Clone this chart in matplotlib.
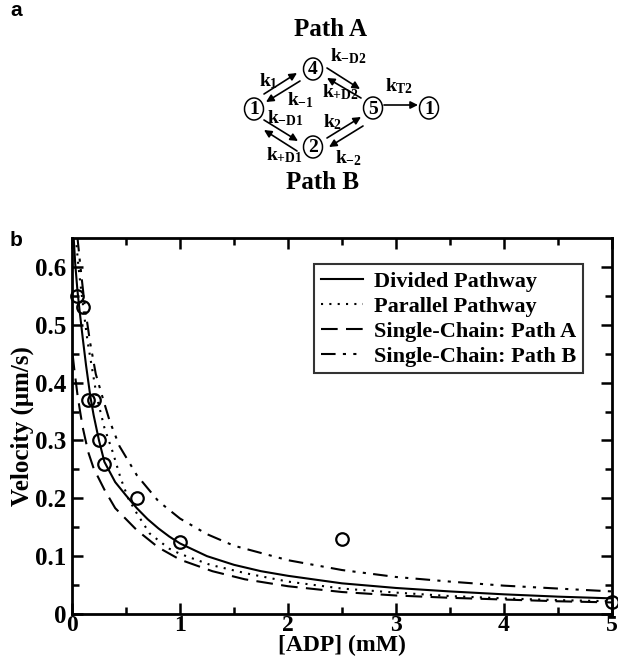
import matplotlib
matplotlib.use("Agg")
import matplotlib.pyplot as plt
from matplotlib.patches import Ellipse, FancyArrowPatch

plt.rcParams['font.family'] = ['Liberation Serif', 'DejaVu Serif']
plt.rcParams['font.weight'] = 'bold'
plt.rcParams['axes.labelweight'] = 'bold'
plt.rcParams['mathtext.fontset'] = 'custom'
plt.rcParams['mathtext.rm'] = 'Liberation Serif:bold'
plt.rcParams['mathtext.it'] = 'Liberation Serif:bold'
plt.rcParams['mathtext.bf'] = 'Liberation Serif:bold'

# measured velocities
adp_pts = [0.05, 0.1, 0.15, 0.2, 0.25, 0.3, 0.6, 1.0, 2.5, 5.0]
vel_pts = [0.55, 0.53, 0.37, 0.37, 0.30, 0.26, 0.20, 0.125, 0.13, 0.02]

# model curves
x_div = [0.015, 0.03, 0.05, 0.07, 0.1, 0.13, 0.17, 0.2, 0.25, 0.3, 0.4, 0.5, 0.6, 0.7, 0.8,
         0.9, 1.0, 1.25, 1.5, 1.75, 2.0, 2.5, 3.0, 3.5, 4.0, 4.5, 5.0]
v_div = [0.652, 0.605, 0.56, 0.525, 0.476, 0.43, 0.376, 0.344, 0.3, 0.263, 0.228, 0.205, 0.183,
         0.164, 0.148, 0.134, 0.122, 0.1, 0.085, 0.074, 0.066, 0.053, 0.045, 0.039, 0.034, 0.030, 0.027]

x_par = [0.035, 0.06, 0.083, 0.114, 0.145, 0.19, 0.23, 0.3, 0.377, 0.45, 0.52, 0.6, 0.72, 0.9,
         1.0, 1.28, 1.62, 2.0, 2.5, 3.0, 3.5, 4.0, 4.5, 5.0]
v_par = [0.652, 0.6, 0.563, 0.515, 0.47, 0.42, 0.375, 0.322, 0.28, 0.235, 0.2, 0.174, 0.139, 0.113,
         0.104, 0.085, 0.07, 0.056, 0.044, 0.037, 0.031, 0.027, 0.024, 0.022]

x_pa = [0.005, 0.02, 0.05, 0.075, 0.1, 0.15, 0.2, 0.3, 0.4, 0.6, 0.8, 1.0, 1.3, 1.6, 2.0, 2.5,
        3.0, 3.5, 4.0, 4.5, 5.0]
v_pa = [0.45, 0.425, 0.38, 0.35, 0.322, 0.28, 0.252, 0.215, 0.183, 0.145, 0.115, 0.094, 0.074,
        0.06, 0.048, 0.038, 0.032, 0.028, 0.025, 0.022, 0.020]

x_pb = [0.05, 0.07, 0.09, 0.12, 0.167, 0.22, 0.29, 0.35, 0.44, 0.6, 0.8, 1.0, 1.25, 1.5, 2.0,
        2.5, 3.0, 3.5, 4.0, 4.5, 5.0]
v_pb = [0.652, 0.615, 0.58, 0.53, 0.47, 0.415, 0.37, 0.333, 0.29, 0.24, 0.195, 0.165, 0.138,
        0.118, 0.093, 0.076, 0.064, 0.056, 0.049, 0.044, 0.039]

fig = plt.figure(figsize=(6.18, 6.6), dpi=100)

# ---- panel a : reaction scheme (pixel coords) ----
axd = fig.add_axes([0, 1 - 205 / 660, 1, 205 / 660])
axd.set_xlim(0, 618)
axd.set_ylim(205, 0)
axd.axis('off')

nodes = {'1': (254, 109), '4': (313, 69), '5': (373, 108), '2': (313, 147), '1b': (429, 108)}
for key, (cx, cy) in nodes.items():
    axd.add_patch(Ellipse((cx, cy), 19, 22, fill=False, lw=1.1, ec='black'))
    axd.text(cx, cy + 1, key[0], ha='center', va='center', fontsize=14)

arrows = [((264, 94), (297, 73)), ((300, 81), (266, 102)),
          ((327, 68), (360, 89)), ((361, 98), (327, 78)),
          ((264, 120), (298, 141)), ((297, 151), (264, 130)),
          ((327, 138), (361, 117)), ((363, 126), (329, 147)),
          ((384, 105), (418, 105))]
for p0, p1 in arrows:
    axd.add_patch(FancyArrowPatch(p0, p1, arrowstyle='-|>', mutation_scale=11,
                                  lw=1.2, color='black', shrinkA=0, shrinkB=0))

klabels = [(268, 81, r'$k_1$'), (300, 100, r'$k_{-1}$'), (348, 56, r'$k_{-D2}$'),
           (340, 92, r'$k_{+D2}$'), (399, 86, r'$k_{T2}$'), (285, 118, r'$k_{-D1}$'),
           (333, 122, r'$k_2$'), (284, 155, r'$k_{+D1}$'), (348, 158, r'$k_{-2}$')]
for lx, ly, s in klabels:
    axd.text(lx, ly, s, ha='center', va='center', fontsize=14)

axd.text(330, 29, 'Path A', ha='center', va='center', fontsize=18)
axd.text(323, 183, 'Path B', ha='center', va='center', fontsize=18)
axd.text(10, 10, 'a', ha='left', va='center', fontsize=15, fontweight='bold',
         family=['Liberation Sans', 'DejaVu Sans'])

# ---- panel b : velocity vs ADP ----
ax = fig.add_axes([72 / 618, 46 / 660, 540 / 618, 376 / 660])
ax.plot(x_div, v_div, color='black', lw=1.5, label='Divided Pathway')
ax.plot(x_par, v_par, color='black', lw=1.5, ls=(0, (1, 3)), label='Parallel Pathway')
ax.plot(x_pa, v_pa, color='black', lw=1.5, ls=(0, (8, 4)), label='Single-Chain: Path A')
ax.plot(x_pb, v_pb, color='black', lw=1.5, ls=(0, (7, 3.5, 1.5, 3.5, 1.5, 3.5)),
        label='Single-Chain: Path B')
ax.plot(adp_pts, vel_pts, 'o', mfc='none', mec='black', ms=9, mew=1.6, clip_on=False)

ax.set_xlim(0, 5)
ax.set_ylim(0, 0.65)
ax.set_xticks([0, 1, 2, 3, 4, 5])
ax.set_xticks([0.5, 1.5, 2.5, 3.5, 4.5], minor=True)
ax.set_yticks([0, 0.1, 0.2, 0.3, 0.4, 0.5, 0.6])
ax.set_yticklabels(['0', '0.1', '0.2', '0.3', '0.4', '0.5', '0.6'])
ax.set_yticks([0.05, 0.15, 0.25, 0.35, 0.45, 0.55], minor=True)
ax.tick_params(which='both', direction='in', top=True, right=True, width=1.8)
ax.tick_params(which='major', length=8)
ax.tick_params(which='minor', length=5)
ax.tick_params(axis='x', labelsize=17, pad=1)
ax.tick_params(axis='y', labelsize=18, pad=4)
for sp in ax.spines.values():
    sp.set_linewidth(2)
ax.set_xlabel('[ADP] (mM)', fontsize=17, labelpad=-1)
ax.set_ylabel('Velocity (μm/s)', fontsize=18, labelpad=1)

leg = ax.legend(loc='upper right', bbox_to_anchor=(0.946, 0.93), fontsize=16, frameon=True,
                fancybox=False, handlelength=1.9, handletextpad=0.5, labelspacing=0.2,
                borderpad=0.3, borderaxespad=0)
leg.get_frame().set_edgecolor('black')
leg.get_frame().set_linewidth(1.5)

fig.text(10 / 618, 1 - 240 / 660, 'b', ha='left', va='center', fontsize=15, fontweight='bold',
         family=['Liberation Sans', 'DejaVu Sans'])

fig.savefig('out.png', dpi=100)
